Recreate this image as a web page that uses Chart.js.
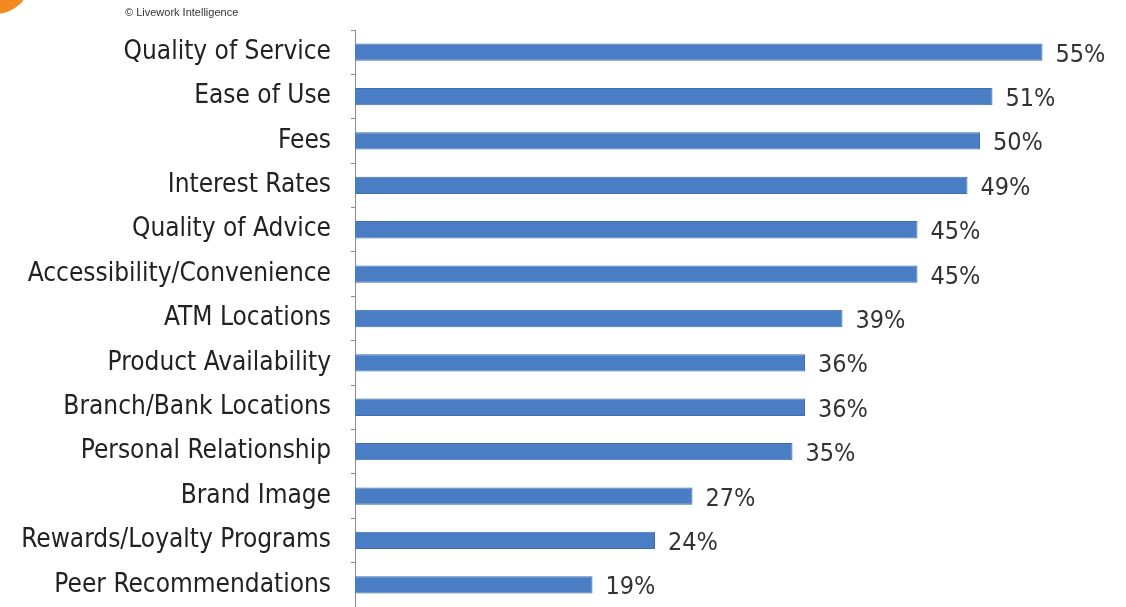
<!DOCTYPE html>
<html>
<head>
<meta charset="utf-8">
<script src="https://cdn.jsdelivr.net/npm/chart.js@4"></script>
<style>
  html, body { margin: 0; padding: 0; background: #fff; overflow: hidden; }
  #wrap { position: relative; width: 1126px; height: 607px; }
  #myChart { display: block; }
  #blob { position: absolute; left: -40px; top: -52px; width: 70px; height: 66px; border-radius: 50%; background: #f28a1e; }
  #credit { position: absolute; left: 125px; top: 6px; font: 11px "Liberation Sans", Arial, sans-serif; color: #333; }
</style>
</head>
<body>
<div id="wrap">
  <canvas id="myChart" width="1126" height="607"></canvas>
  <div id="blob"></div>
  <div id="credit">© Livework Intelligence</div>
</div>
<script>
const factors = ['Quality of Service', 'Ease of Use', 'Fees', 'Interest Rates', 'Quality of Advice',
  'Accessibility/Convenience', 'ATM Locations', 'Product Availability', 'Branch/Bank Locations',
  'Personal Relationship', 'Brand Image', 'Rewards/Loyalty Programs', 'Peer Recommendations'];
const shares = [55, 51, 50, 49, 45, 45, 39, 36, 36, 35, 27, 24, 19];

const labelFont = '"Liberation Sans Narrow", "DejaVu Sans Condensed", "Open Sans", sans-serif';

// percentage text at the end of each bar
const valueLabels = {
  id: 'valueLabels',
  afterDatasetsDraw(chart) {
    const ctx = chart.ctx;
    const meta = chart.getDatasetMeta(0);
    ctx.save();
    ctx.font = '25px ' + labelFont;
    ctx.fillStyle = '#333';
    ctx.textBaseline = 'middle';
    meta.data.forEach((bar, i) => {
      ctx.fillText(shares[i] + '%', bar.x + 13, bar.y + 3);
    });
    ctx.restore();
  }
};

const ctx = document.getElementById('myChart').getContext('2d');
const myChart = new Chart(ctx, {
  type: 'bar',
  data: {
    labels: factors,
    datasets: [{
      data: shares,
      backgroundColor: '#4a7ec4',
      borderColor: '#3f6fae',
      borderWidth: 1,
      barPercentage: 0.39,
      categoryPercentage: 1
    }]
  },
  options: {
    indexAxis: 'y',
    responsive: false,
    animation: false,
    layout: { padding: { top: 30, right: 21, bottom: 0, left: 0 } },
    plugins: { legend: { display: false }, tooltip: { enabled: false } },
    scales: {
      x: { display: false, min: 0, max: 60 },
      y: {
        afterFit(scale) {
          scale.width = 355;
          scale.paddingTop = 0;
          scale.paddingBottom = 0;
        },
        border: { display: true, color: '#8c8c8c', width: 1 },
        grid: { drawOnChartArea: false, tickLength: 4, color: '#8c8c8c' },
        ticks: {
          color: '#222',
          padding: 20,
          font: { family: labelFont, size: 26 }
        }
      }
    }
  },
  plugins: [valueLabels]
});
</script>
</body>
</html>
